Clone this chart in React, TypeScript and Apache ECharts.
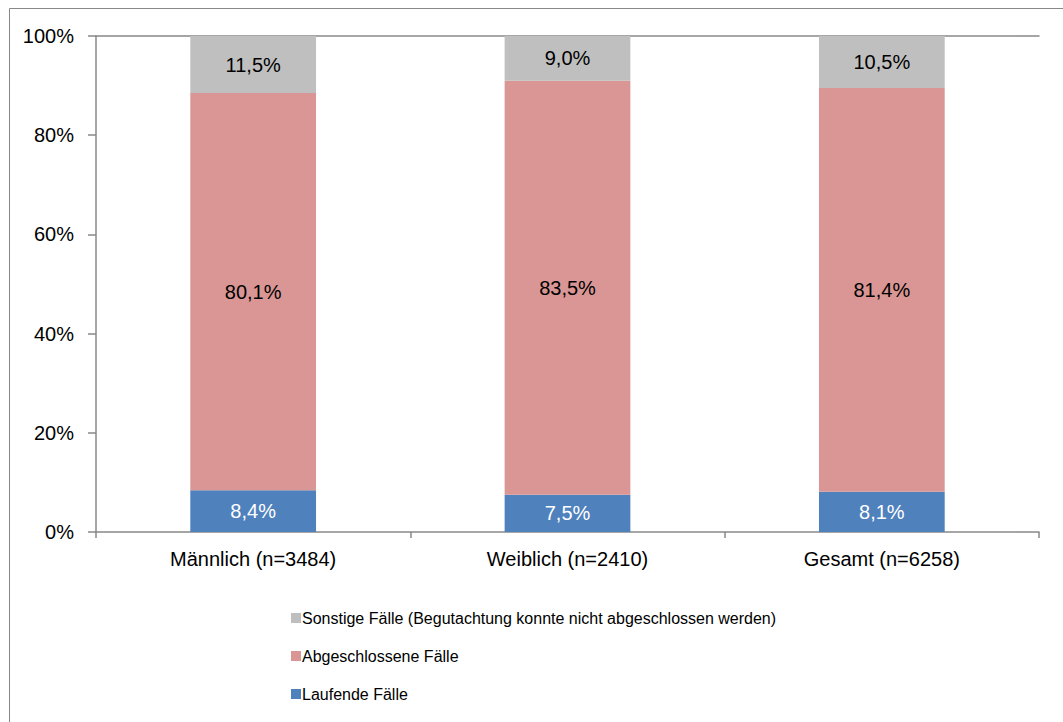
import React, { useEffect, useRef } from "react";
import * as echarts from "echarts";

const categories = ["Männlich (n=3484)", "Weiblich (n=2410)", "Gesamt (n=6258)"];
const laufende = [8.4, 7.5, 8.1];
const abgeschlossene = [80.1, 83.5, 81.4];
const sonstige = [11.5, 9.0, 10.5];
const seriesNames = [
  "Laufende Fälle",
  "Abgeschlossene Fälle",
  "Sonstige Fälle (Begutachtung konnte nicht abgeschlossen werden)",
];

const FONT = "'Liberation Sans', Arial, sans-serif";
const AXIS_COLOR = "#888888";

const fmt = (v: number) => v.toFixed(1).replace(".", ",") + "%";

export default function App() {
  const ref = useRef<HTMLDivElement>(null);
  useEffect(() => {
    if (!ref.current) return;
    const chart = echarts.init(ref.current, undefined, { renderer: "svg" });
    const mkSeries = (name: string, data: number[], color: string, labelColor: string) => ({
      name,
      type: "bar",
      stack: "total",
      data,
      barWidth: "40%",
      itemStyle: { color },
      label: {
        show: true,
        position: "inside",
        color: labelColor,
        fontSize: 20,
        fontFamily: FONT,
        formatter: (p: any) => fmt(p.value),
      },
    });
    chart.setOption({
      animation: false,
      textStyle: { fontFamily: FONT },
      graphic: [
        {
          type: "line",
          shape: { x1: 9.5, y1: 8.5, x2: 1063, y2: 8.5 },
          style: { stroke: AXIS_COLOR, lineWidth: 1 },
        },
        {
          type: "line",
          shape: { x1: 9.5, y1: 8.5, x2: 9.5, y2: 722 },
          style: { stroke: AXIS_COLOR, lineWidth: 1 },
        },
      ],
      grid: { left: 96, right: 24, top: 36, bottom: 190, containLabel: false },
      legend: {
        orient: "vertical",
        left: 286,
        top: 604,
        itemWidth: 10,
        itemHeight: 10,
        itemGap: 20,
        icon: "rect",
        data: [seriesNames[2], seriesNames[1], seriesNames[0]],
        textStyle: { fontSize: 16, lineHeight: 18, color: "#000", fontFamily: FONT, padding: [0, 0, 0, -4] },
      },
      xAxis: [
        {
          type: "category",
          data: categories,
          position: "bottom",
          axisLine: { lineStyle: { color: AXIS_COLOR, width: 1.5 } },
          axisTick: { show: true, length: 6, lineStyle: { color: AXIS_COLOR, width: 1.5 } },
          axisLabel: { fontSize: 20, color: "#000", margin: 17, fontFamily: FONT },
        },
        {
          type: "category",
          data: categories,
          position: "top",
          axisLine: { show: true, lineStyle: { color: AXIS_COLOR, width: 1.5 } },
          axisTick: { show: false },
          axisLabel: { show: false },
        },
      ],
      yAxis: {
        type: "value",
        min: 0,
        max: 100,
        interval: 20,
        axisLine: { show: true, lineStyle: { color: AXIS_COLOR, width: 1.5 } },
        axisTick: { show: true, length: 8, lineStyle: { color: AXIS_COLOR, width: 1.5 } },
        splitLine: { show: false },
        axisLabel: {
          fontSize: 20,
          color: "#000",
          margin: 22,
          fontFamily: FONT,
          formatter: (v: number) => v + "%",
        },
      },
      series: [
        mkSeries(seriesNames[0], laufende, "#4F81BD", "#ffffff"),
        mkSeries(seriesNames[1], abgeschlossene, "#D99694", "#000000"),
        mkSeries(seriesNames[2], sonstige, "#BFBFBF", "#000000"),
      ],
    });
    return () => chart.dispose();
  }, []);
  return (
    <div
      ref={ref}
      style={{ position: "fixed", left: 0, top: 0, width: 1063, height: 722, background: "#fff" }}
    />
  );
}
